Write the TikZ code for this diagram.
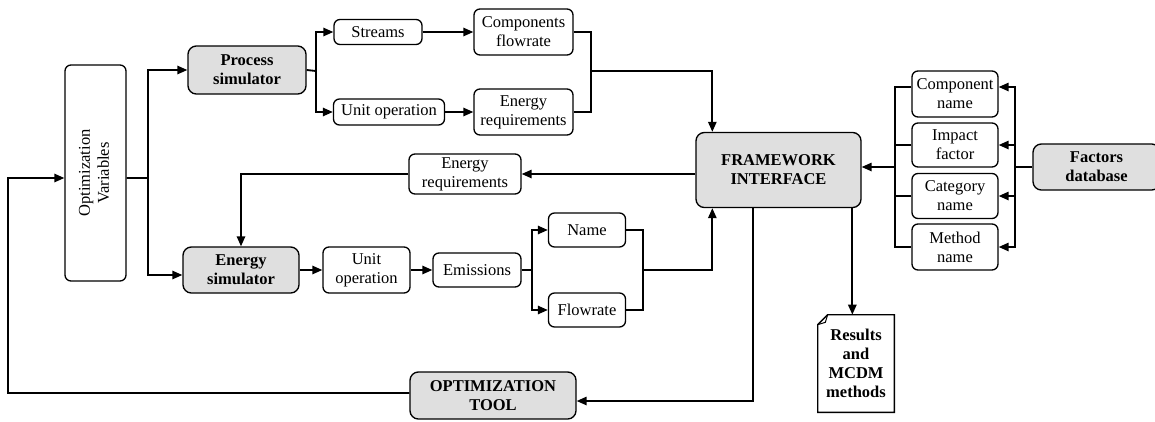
\documentclass[tikz,border=0pt]{standalone}
\usepackage{fontspec}
\setmainfont{Liberation Serif}
\usetikzlibrary{arrows.meta}
\begin{document}
\begin{tikzpicture}[x=0.6pt, y=-0.6pt,
    font=\fontsize{9.9}{11.4}\selectfont,
    box/.style 2 args={draw, rounded corners=3.6pt, line width=0.8pt, align=center,
      inner sep=0pt, minimum width=#1*0.6pt, minimum height=#2*0.6pt},
    gbox/.style 2 args={box={#1}{#2}, fill=gray!25, rounded corners=5pt,
      font=\fontsize{9.9}{11.4}\selectfont\bfseries},
    line/.style={line width=1.1pt},
    arr/.style={line, -{Triangle[length=6pt,width=5pt]}}]
  \useasboundingbox (0,0) rectangle (1155,421);
  % left column and simulators
  \node[box={61}{216}] (ov) at (95.5,173) {\rotatebox{90}{\begin{tabular}{@{}c@{}}Optimization\\Variables\end{tabular}}};
  \node[gbox={118}{48}] (ps) at (247,70) {Process\\simulator};
  \node[gbox={116}{46}] (es) at (241,270) {Energy\\simulator};
  % process branch
  \node[box={88}{25}] (st) at (378,32) {Streams};
  \node[box={99}{46}] (cf) at (523.5,32) {Components\\flowrate};
  \node[box={111}{26}] (uo) at (389,112) {Unit operation};
  \node[box={99}{46}] (er) at (523.5,112) {Energy\\requirements};
  % energy branch
  \node[box={112}{40}] (eq) at (465,174) {Energy\\requirements};
  \node[box={87}{46}] (uop) at (366.5,270) {Unit\\operation};
  \node[box={88}{34}] (em) at (477,270) {Emissions};
  \node[box={77}{34}] (nm) at (587,230) {Name};
  \node[box={77}{34}] (fr) at (587,310) {Flowrate};
  % interface, database, tool
  \node[gbox={165}{75}] (fw) at (778.5,170) {FRAMEWORK\\INTERFACE};
  \node[box={86}{46}] (cn) at (955,94) {Component\\name};
  \node[box={86}{44}] (imp) at (955,145) {Impact\\factor};
  \node[box={86}{45}] (cat) at (955,196) {Category\\name};
  \node[box={86}{46}] (mn) at (955,247) {Method\\name};
  \node[gbox={127}{46}] (fd) at (1096.5,167) {Factors\\database};
  \node[gbox={166}{47}] (ot) at (493,395.5) {OPTIMIZATION\\TOOL};
  \node[align=center, inner sep=0pt, minimum width=76*0.6pt, minimum height=97*0.6pt,
    font=\fontsize{9.9}{11.4}\selectfont\bfseries] (res) at (856,363.5) {Results\\and\\MCDM\\methods};
  \draw[line width=0.8pt] ([xshift=6pt]res.north west) -- (res.north east) -- (res.south east)
    -- (res.south west) -- ([yshift=-6pt]res.north west) -- cycle;
  \draw[line width=0.6pt] ([xshift=6pt]res.north west) -- ([xshift=4.6pt,yshift=-4.6pt]res.north west)
    -- ([yshift=-6pt]res.north west);
  % junction points
  \coordinate (b1) at (148,178);
  \coordinate (b2) at (316,71);
  \coordinate (m1) at (591,71);
  \coordinate (b3) at (532,270);
  \coordinate (m2) at (643,270);
  \coordinate (lb) at (895,167);
  \coordinate (rb) at (1015,167);
  \coordinate (fb) at (8,178);
  % connectors
  \draw[line] ([yshift=-3pt]ov.east) -- (b1);
  \draw[arr] (b1) |- (ps.west);
  \draw[arr] (b1) |- ([yshift=-3pt]es.west);
  \draw[line] (ps.east) -- (b2);
  \draw[arr] (b2) |- (st.west);
  \draw[arr] (b2) |- (uo.west);
  \draw[arr] (st) -- (cf);
  \draw[arr] (uo) -- (er);
  \draw[line] (cf.east) -| (m1) |- (er.east);
  \draw[arr] (m1) -| ([xshift=10.2pt]fw.north west);
  \draw[arr] (eq.east -| fw.west) -- (eq.east);
  \draw[arr] (eq.west) -| (es.north);
  \draw[arr] (es) -- (uop);
  \draw[arr] (uop) -- (em);
  \draw[line] (em.east) -- (b3);
  \draw[arr] (b3) |- (nm.west);
  \draw[arr] (b3) |- (fr.west);
  \draw[line] (nm.east) -| (m2) |- (fr.east);
  \draw[arr] (m2) -| ([xshift=10.2pt]fw.south west);
  \draw[line] (fd.west) -- (rb);
  \draw[arr] (rb) |- ([yshift=4.2pt]cn.east);
  \draw[arr] (rb) |- (imp.east);
  \draw[arr] (rb) |- (cat.east);
  \draw[arr] (rb) |- (mn.east);
  \draw[line] ([yshift=4.2pt]cn.west) -| (lb) |- (mn.west);
  \draw[line] (imp.west) -- (imp.west -| lb);
  \draw[line] (cat.west) -- (cat.west -| lb);
  \draw[arr] (lb) -- (lb -| fw.east);
  \draw[arr] ([xshift=94.2pt]fw.south west) coordinate (r0) -- (r0 |- res.north);
  \draw[arr] ([xshift=34.8pt]fw.south west) |- ([yshift=-3.3pt]ot.east);
  \draw[arr] ([yshift=1.5pt]ot.west) -| (fb) -- ([yshift=-3pt]ov.west);
\end{tikzpicture}
\end{document}
